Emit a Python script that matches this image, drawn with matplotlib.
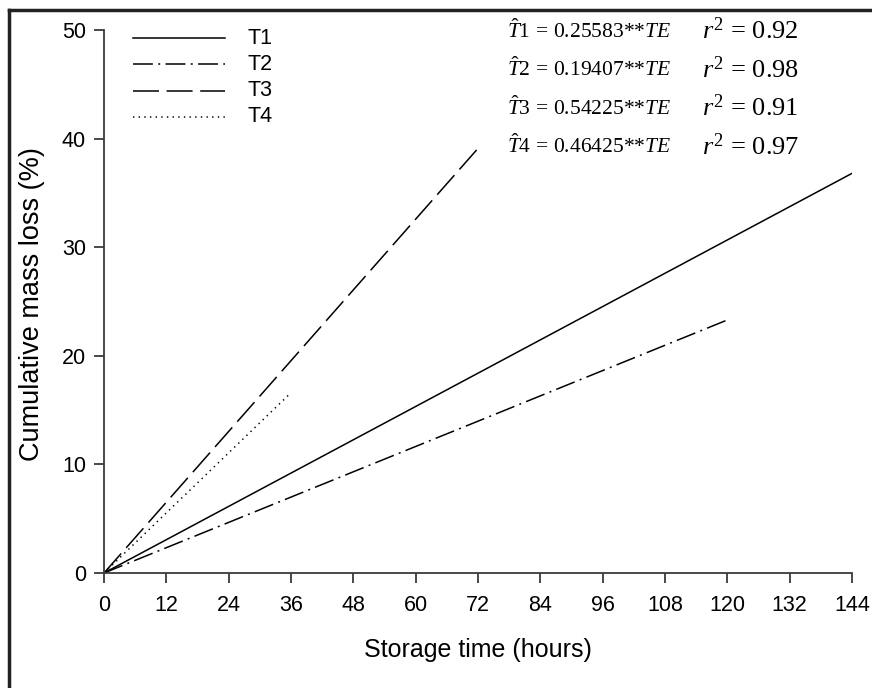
import matplotlib.pyplot as plt
from matplotlib.lines import Line2D

plt.rcParams['font.family'] = ['Liberation Sans', 'DejaVu Sans']
plt.rcParams['mathtext.fontset'] = 'custom'
plt.rcParams['mathtext.rm'] = 'Liberation Serif'
plt.rcParams['mathtext.it'] = 'Liberation Serif:italic'

# data (fitted lines through the origin)
labels = ['T1', 'T2', 'T3', 'T4']
t1_x = [0, 144]
t1_y = [0, 36.8]
t2_x = [0, 120]
t2_y = [0, 23.3]
t3_x = [0, 72]
t3_y = [0, 39.1]
t4_x = [0, 36]
t4_y = [0, 16.6]
slopes = ['0.25583', '0.19407', '0.54225', '0.46425']
r2 = ['0.92', '0.98', '0.91', '0.97']
xticks = list(range(0, 145, 12))
yticks = [0, 10, 20, 30, 40, 50]

styles = ['-', (0, (13, 3.5, 1.3, 3.5)), (0, (17, 5)), (0, (0.9, 2.8))]

fig = plt.figure(figsize=(8.72, 6.88), dpi=100)
ax = fig.add_axes([104 / 872, 115 / 688, 748 / 872, 543 / 688])

series = [(t1_x, t1_y), (t2_x, t2_y), (t3_x, t3_y), (t4_x, t4_y)]
for (xs, ys), ls, lab in zip(series, styles, labels):
    ax.plot(xs, ys, color='black', lw=1.1, linestyle=ls, label=lab)

ax.set_xlim(0, 144)
ax.set_ylim(0, 50)
ax.set_xticks(xticks)
ax.set_yticks(yticks)
ax.spines['top'].set_visible(False)
ax.spines['right'].set_visible(False)
for s in ['left', 'bottom']:
    ax.spines[s].set_color('#3a3a3a')
    ax.spines[s].set_linewidth(1.3)
ax.tick_params(direction='out', length=7, width=1.3, color='#3a3a3a',
               labelsize=15.5)
ax.tick_params(axis='x', pad=9)
ax.tick_params(axis='y', pad=6)
ax.set_xlabel('Storage time (hours)', fontsize=18, va='center')
ax.set_ylabel('Cumulative mass loss (%)', fontsize=19.5, va='center')
ax.xaxis.set_label_coords(0.5, (573 - 650) / 543)
ax.yaxis.set_label_coords((32 - 104) / 748, (573 - 304) / 543)

# legend drawn by hand, position in figure pixels
for i, (ls, lab) in enumerate(zip(styles, labels)):
    yp = 1 - (38 + i * 26.3) / 688
    fig.add_artist(Line2D([133 / 872, 225 / 872], [yp, yp], color='black',
                          lw=1.1, linestyle=ls, transform=fig.transFigure))
    fig.text(247 / 872, yp, lab, fontsize=15.5, va='center', ha='left')

# regression equations
for i, (s, r) in enumerate(zip(slopes, r2)):
    yp = 1 - (31 + i * 38.5) / 688
    fig.text(507 / 872, yp,
             r'$\hat{T}\mathrm{%d}\/\mathrm{=}\/\mathrm{%s{*}{*}}TE$' % (i + 1, s),
             fontsize=15.5, va='center', ha='left')
    fig.text(702 / 872, yp, r'$r^{2}\,\mathrm{=}\,\mathrm{%s}$' % r,
             fontsize=19, va='center', ha='left')

# outer frame (top and left sides only)
fig.add_artist(Line2D([9 / 872, 1], [1 - 10 / 688, 1 - 10 / 688],
                      color='#222222', lw=2.5, transform=fig.transFigure))
fig.add_artist(Line2D([9 / 872, 9 / 872], [0, 1 - 10 / 688],
                      color='#222222', lw=2.5, transform=fig.transFigure))

fig.savefig('out.png', dpi=100)
